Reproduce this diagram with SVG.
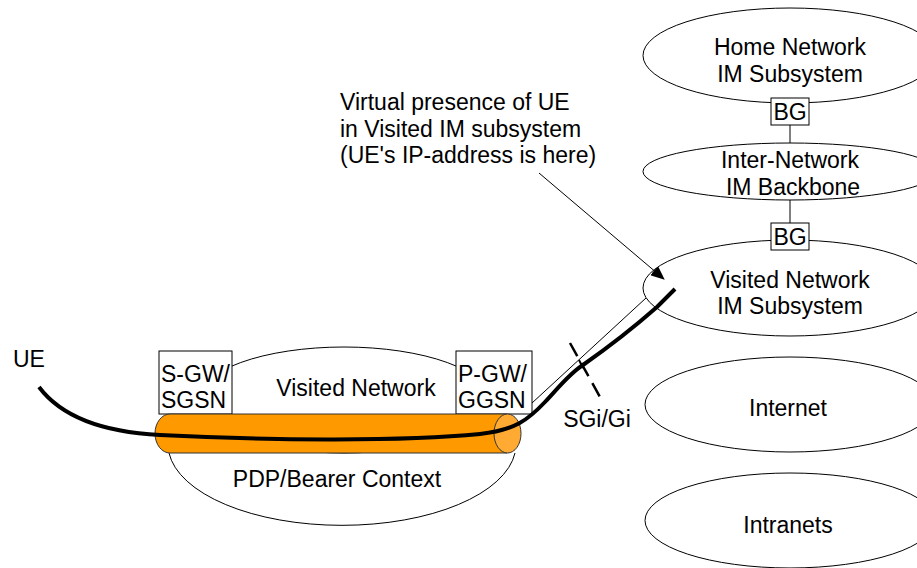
<svg xmlns="http://www.w3.org/2000/svg" width="917" height="568" viewBox="0 0 917 568">
<defs>
<style>
text{font-family:"Liberation Sans",Arial,sans-serif;font-size:23px;fill:#000}
.c{text-anchor:middle}
.sh{fill:#fff;stroke:#000;stroke-width:1}
.ln{fill:none;stroke:#000;stroke-width:1}
</style>
<marker id="ah" markerWidth="14" markerHeight="12" refX="13" refY="6" orient="auto" markerUnits="userSpaceOnUse">
<path d="M0,0 L14,6 L0,12 z" fill="#000"/>
</marker>
</defs>
<rect width="917" height="568" fill="#fff"/>

<g id="connectors">
<line class="ln" x1="790" y1="125" x2="790" y2="143"/>
<line class="ln" x1="790" y1="200" x2="790" y2="223"/>
</g>

<g id="home-ims">
<ellipse class="sh" cx="790" cy="55.5" rx="147" ry="47.5"/>
<text class="c" x="790" y="55">Home Network</text>
<text class="c" x="790" y="82">IM Subsystem</text>
</g>
<g id="bg1">
<rect class="sh" x="771" y="98" width="38" height="27"/>
<text class="c" x="790" y="120">BG</text>
</g>
<g id="backbone">
<ellipse class="sh" cx="790" cy="171.5" rx="147" ry="28.5"/>
<text class="c" x="790" y="168">Inter-Network</text>
<text class="c" x="793" y="195">IM Backbone</text>
</g>
<g id="visited-ims">
<ellipse class="sh" cx="790" cy="288" rx="147" ry="48"/>
<text class="c" x="790" y="288">Visited Network</text>
<text class="c" x="790" y="314">IM Subsystem</text>
</g>
<g id="bg2">
<rect class="sh" x="771" y="223" width="38" height="27"/>
<text class="c" x="790" y="245">BG</text>
</g>
<g id="internet">
<ellipse class="sh" cx="790" cy="404.5" rx="145" ry="47.5"/>
<text class="c" x="788" y="416">Internet</text>
</g>
<g id="intranets">
<ellipse class="sh" cx="790" cy="520.5" rx="145" ry="47.5"/>
<text class="c" x="788" y="533">Intranets</text>
</g>

<g id="visited-network">
<ellipse class="sh" cx="344" cy="400" rx="146" ry="53"/>
<text class="c" x="356" y="396">Visited Network</text>
</g>
<g id="sgw">
<rect class="sh" x="159" y="351" width="73" height="63"/>
<text x="161" y="382">S-GW/</text>
<text x="161" y="408">SGSN</text>
</g>
<g id="pgw">
<rect class="sh" x="456" y="351" width="76" height="63"/>
<text x="458" y="382">P-GW/</text>
<text x="458" y="408">GGSN</text>
</g>
<g id="pdp-context">
<path class="ln" d="M169,453 A174,81 0 0 0 515,453"/>
<text class="c" x="337" y="487">PDP/Bearer Context</text>
</g>
<g id="bearer-tube">
<path d="M170,414 L507,414 L507,453 L170,453 A15,19.5 0 0 1 170,414 z" fill="#FF9900" stroke="#333" stroke-width="1"/>
<ellipse cx="507.5" cy="433.5" rx="13.5" ry="19.5" fill="#FFAA33" stroke="#333" stroke-width="1"/>
</g>

<g id="ue">
<text x="13" y="367">UE</text>
</g>

<g id="path-lines">
<line class="ln" x1="532" y1="403" x2="646" y2="298"/>
<line x1="579" y1="360" x2="583" y2="368" stroke="#000" stroke-width="2"/>
<path d="M39,387 C60,415 100,432 160,435 C260,440 400,442 480,434 C515,430 528,420 545,402 C560,386 570,373 583,365 C610,346 640,322 657,307 L675,289" fill="none" stroke="#000" stroke-width="4"/>
<line x1="570" y1="343" x2="600" y2="397" stroke="#000" stroke-width="2.5" stroke-dasharray="15 8"/>
<text class="c" x="597" y="427">SGi/Gi</text>
</g>

<g id="annotation">
<text x="340" y="110">Virtual presence of UE</text>
<text x="340" y="137">in Visited IM subsystem</text>
<text x="340" y="163">(UE's IP-address is here)</text>
<line class="ln" x1="539" y1="173" x2="664" y2="279" marker-end="url(#ah)"/>
</g>
</svg>
